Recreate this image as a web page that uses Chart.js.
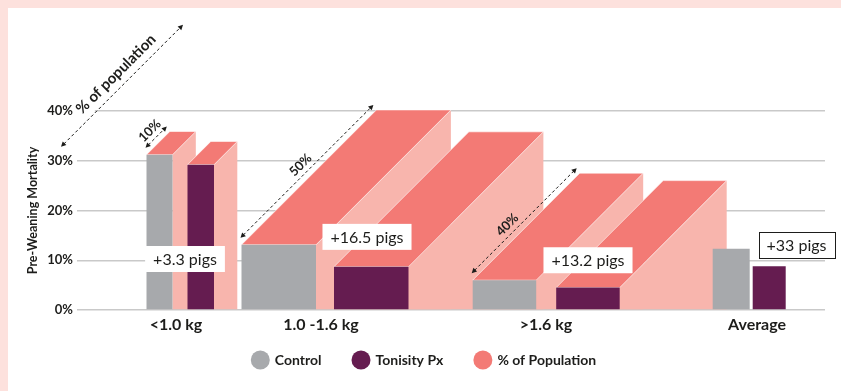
<!DOCTYPE html>
<html>
<head>
<meta charset="utf-8">
<script src="https://cdn.jsdelivr.net/npm/chart.js@4.4.1/dist/chart.umd.min.js"></script>
<style>
  html, body { margin: 0; padding: 0; background: #fff; }
  #wrap { width: 841px; height: 391px; }
</style>
</head>
<body>
<div id="wrap"><canvas id="chart" width="841" height="391"></canvas></div>
<script>
// ---- data ----
const CATEGORIES = ['<1.0 kg', '1.0 -1.6 kg', '>1.6 kg', 'Average'];
const CONTROL    = [31.2, 13.1, 6.0, 12.3];   // pre-weaning mortality, %
const TONISITY   = [29.2, 8.7, 4.5, 8.8];     // pre-weaning mortality, %
const POPULATION = [10, 50, 40, null];        // share of litter in weight class, %
const PIG_GAIN   = ['+3.3 pigs', '+16.5 pigs', '+13.2 pigs', '+33 pigs'];
const Y_TICK_STEP = 10;

// ---- layout (horizontal axis units) ----
const X_SPAN     = 748;
const GROUP_X    = [69.5, 164.5, 395.7, 635.7];  // left edge of each group's first bar
const CONTROL_W  = [26, 74.5, 63.5, 37];
const TONISITY_W = [26.5, 74.5, 63.5, 33];
const BAR_GAP    = [15, 18, 20, 3];
const LABEL_X    = [99, 244, 469, 680];          // category label centres
const PIG_POS    = [[108, 10.25], [290, 14.7], [511, 10.0], [719.5, 13.0]]; // box centre [x unit, y %]
const DEPTH_PER_PCT = 2.79, DEPTH_BASE = -4.6;    // pixels of receding depth per % of population

// ---- styles ----
const FONT = 'Lato, "Open Sans", sans-serif';
const INK = '#1d1d1b';
const C = {
  control: '#a7a9ac',
  tonisity: '#651c50',
  top: '#f37a75',
  side: '#f8b5ad',
  frame: '#fde1dd',
  grid: '#c9c9c9'
};
const LEGEND = { centerX: 423.5, y: 360, radius: 9.5, textGap: 5, itemGap: 30, font: `bold 14px ${FONT}` };

const controlX  = GROUP_X.map((g, i) => g + CONTROL_W[i] / 2);
const tonisityX = GROUP_X.map((g, i) => g + CONTROL_W[i] + BAR_GAP[i] + TONISITY_W[i] / 2);
const depthPx = p => p * DEPTH_PER_PCT + DEPTH_BASE;

function poly(ctx, pts) {
  ctx.beginPath();
  pts.forEach(([x, y], k) => k ? ctx.lineTo(x, y) : ctx.moveTo(x, y));
  ctx.closePath();
}

function arrowHead(ctx, x, y, a) {
  const h = 5, w = 2.6;
  ctx.beginPath();
  ctx.moveTo(x, y);
  ctx.lineTo(x - h * Math.cos(a) + w * Math.sin(a), y - h * Math.sin(a) - w * Math.cos(a));
  ctx.lineTo(x - h * Math.cos(a) - w * Math.sin(a), y - h * Math.sin(a) + w * Math.cos(a));
  ctx.closePath();
  ctx.fill();
}

function dashedArrow(ctx, x0, y0, x1, y1) {
  const a = Math.atan2(y1 - y0, x1 - x0);
  const h = 4;
  ctx.save();
  ctx.strokeStyle = INK;
  ctx.fillStyle = INK;
  ctx.lineWidth = 1;
  ctx.setLineDash([3, 2.5]);
  ctx.beginPath();
  ctx.moveTo(x0 + h * Math.cos(a), y0 + h * Math.sin(a));
  ctx.lineTo(x1 - h * Math.cos(a), y1 - h * Math.sin(a));
  ctx.stroke();
  ctx.setLineDash([]);
  arrowHead(ctx, x1, y1, a);
  arrowHead(ctx, x0, y0, a + Math.PI);
  ctx.restore();
}

function rotatedText(ctx, text, x, y, font) {
  ctx.save();
  ctx.translate(x, y);
  ctx.rotate(-Math.PI / 4);
  ctx.font = font;
  ctx.fillStyle = INK;
  ctx.textAlign = 'center';
  ctx.textBaseline = 'middle';
  ctx.fillText(text, 0, 0);
  ctx.restore();
}

// Page frame: pink border with white panel
const framePlugin = {
  id: 'frame',
  beforeDraw(chart) {
    const { ctx, width, height } = chart;
    ctx.save();
    ctx.fillStyle = C.frame;
    ctx.fillRect(0, 0, width, height);
    ctx.fillStyle = '#fff';
    ctx.fillRect(8, 8, width - 8, height - 8);
    ctx.restore();
  }
};

// Bars get their own widths, measured in axis units
const barWidthPlugin = {
  id: 'barWidths',
  afterDatasetsUpdate(chart) {
    const xs = chart.scales.x;
    const unit = v => xs.getPixelForValue(v) - xs.getPixelForValue(0);
    [CONTROL_W, TONISITY_W].forEach((widths, d) => {
      chart.getDatasetMeta(d).data.forEach((el, i) => { el.width = unit(widths[i]); });
    });
  }
};

// Receding top and side faces; depth encodes the population share
const depthPlugin = {
  id: 'depth',
  beforeDatasetsDraw(chart) {
    const { ctx } = chart;
    const metas = [chart.getDatasetMeta(0), chart.getDatasetMeta(1)];
    ctx.save();
    POPULATION.forEach((pop, i) => {
      if (pop == null) return;
      const d = depthPx(pop);
      metas.forEach(meta => {
        const el = meta.data[i];
        const L = el.x - el.width / 2, R = el.x + el.width / 2, T = el.y, B = el.base;
        ctx.fillStyle = C.side;
        poly(ctx, [[R, T], [R + d, T - d], [R + d, B], [R, B]]);
        ctx.fill();
        ctx.fillStyle = C.top;
        poly(ctx, [[L, T], [R, T], [R + d, T - d], [L + d, T - d]]);
        ctx.fill();
        ctx.strokeStyle = 'rgba(255,255,255,0.75)';
        ctx.lineWidth = 0.8;
        ctx.stroke();
      });
    });
    ctx.restore();
  }
};

// Dimension arrows, their labels and the pig-count boxes
const notesPlugin = {
  id: 'notes',
  afterDatasetsDraw(chart) {
    const { ctx, chartArea: area, scales: { x, y } } = chart;
    ctx.save();

    // "% of population" key arrow
    const ax0 = area.left - 16, ay0 = y.getPixelForValue(32.8);
    const len = 122;
    const ax1 = ax0 + len, ay1 = ay0 - len;
    // keep the top gridline clear left of the key arrow
    const cross = ax0 + (ay0 - y.getPixelForValue(40));
    ctx.fillStyle = '#fff';
    ctx.fillRect(area.left - 2, y.getPixelForValue(40) - 2, cross - area.left, 4);
    dashedArrow(ctx, ax0, ay0, ax1, ay1);
    {
      const mx = (ax0 + ax1) / 2, my = (ay0 + ay1) / 2;
      const n = 12.5 / Math.SQRT2, t = 4 / Math.SQRT2;
      rotatedText(ctx, '% of population', mx - n + t, my - n - t, `bold 15px ${FONT}`);
    }

    // depth arrows along the left edge of each control bar's top face
    const metaC = chart.getDatasetMeta(0);
    POPULATION.forEach((pop, i) => {
      if (pop == null) return;
      const el = metaC.data[i];
      const d = depthPx(pop);
      const L = el.x - el.width / 2, T = el.y;
      const ox = -2, oy = -6, inset = 1;
      const x0 = L + ox + inset, y0 = T + oy - inset;
      const x1 = L + d + ox - inset, y1 = T - d + oy + inset;
      dashedArrow(ctx, x0, y0, x1, y1);
      const frac = i === 2 ? 0.4 : 0.5;
      const mx = x0 + (x1 - x0) * frac, my = y0 + (y1 - y0) * frac;
      const n = 9 / Math.SQRT2;
      rotatedText(ctx, pop + '%', mx - n, my - n, `bold 13px ${FONT}`);
    });

    // pig-count boxes
    ctx.font = `16px ${FONT}`;
    ctx.textAlign = 'center';
    ctx.textBaseline = 'middle';
    PIG_GAIN.forEach((txt, i) => {
      const cx = x.getPixelForValue(PIG_POS[i][0]);
      const cy = y.getPixelForValue(PIG_POS[i][1]);
      const w = ctx.measureText(txt).width + 16, h = 26;
      ctx.fillStyle = '#fff';
      ctx.fillRect(cx - w / 2, cy - h / 2, w, h);
      if (i === PIG_GAIN.length - 1) {
        ctx.strokeStyle = INK;
        ctx.lineWidth = 1;
        ctx.strokeRect(Math.round(cx - w / 2) + 0.5, Math.round(cy - h / 2) + 0.5, Math.round(w), Math.round(h));
      }
      ctx.fillStyle = INK;
      ctx.fillText(txt, cx, cy + 1);
    });

    ctx.restore();
  }
};

// Legend row: filled circles + bold labels, taken from the datasets
const legendPlugin = {
  id: 'circleLegend',
  afterDraw(chart) {
    const { ctx } = chart;
    const items = chart.data.datasets.map(ds => ({ text: ds.label, color: ds.backgroundColor }));
    ctx.save();
    ctx.font = LEGEND.font;
    const widths = items.map(it => 2 * LEGEND.radius + LEGEND.textGap + ctx.measureText(it.text).width);
    const total = widths.reduce((a, b) => a + b, 0) + LEGEND.itemGap * (items.length - 1);
    let xPos = LEGEND.centerX - total / 2;
    ctx.textAlign = 'left';
    ctx.textBaseline = 'middle';
    items.forEach((it, k) => {
      ctx.fillStyle = it.color;
      ctx.beginPath();
      ctx.arc(xPos + LEGEND.radius, LEGEND.y, LEGEND.radius, 0, Math.PI * 2);
      ctx.fill();
      ctx.fillStyle = INK;
      ctx.fillText(it.text, xPos + 2 * LEGEND.radius + LEGEND.textGap, LEGEND.y);
      xPos += widths[k] + LEGEND.itemGap;
    });
    ctx.restore();
  }
};

new Chart(document.getElementById('chart'), {
  type: 'bar',
  data: {
    datasets: [
      {
        label: 'Control',
        data: CONTROL.map((v, i) => ({ x: controlX[i], y: v })),
        backgroundColor: C.control
      },
      {
        label: 'Tonisity Px',
        data: TONISITY.map((v, i) => ({ x: tonisityX[i], y: v })),
        backgroundColor: C.tonisity
      },
      {
        label: '% of Population',
        data: [],
        backgroundColor: C.top
      }
    ]
  },
  options: {
    responsive: false,
    animation: false,
    datasets: { bar: { grouped: false, borderWidth: 0 } },
    layout: { padding: { left: 21, right: 16, top: 111, bottom: 0 } },
    scales: {
      x: {
        type: 'linear',
        min: 0,
        max: X_SPAN,
        offset: false,
        grid: { display: false, drawTicks: false },
        border: { display: false },
        afterBuildTicks: s => { s.ticks = LABEL_X.map(v => ({ value: v })); },
        afterFit: s => { s.height = 81; },
        ticks: {
          autoSkip: false,
          maxRotation: 0,
          padding: 5,
          color: INK,
          font: { family: FONT, size: 16, weight: 'bold' },
          callback: (v, i) => CATEGORIES[i]
        }
      },
      y: {
        min: 0,
        max: 40,
        grid: { color: C.grid, lineWidth: 1.5, drawTicks: false },
        border: { display: false },
        afterFit: s => { s.width = 56; },
        ticks: {
          stepSize: Y_TICK_STEP,
          padding: 4,
          color: INK,
          font: { family: FONT, size: 13, weight: 'bold' },
          callback: v => v + '%'
        },
        title: {
          display: true,
          text: 'Pre-Weaning Mortality',
          color: INK,
          padding: { top: 4, bottom: 4 },
          font: { family: FONT, size: 12.5, weight: 'bold' }
        }
      }
    },
    plugins: {
      tooltip: { enabled: false },
      legend: { display: false }
    }
  },
  plugins: [framePlugin, barWidthPlugin, depthPlugin, notesPlugin, legendPlugin]
});
</script>
</body>
</html>
